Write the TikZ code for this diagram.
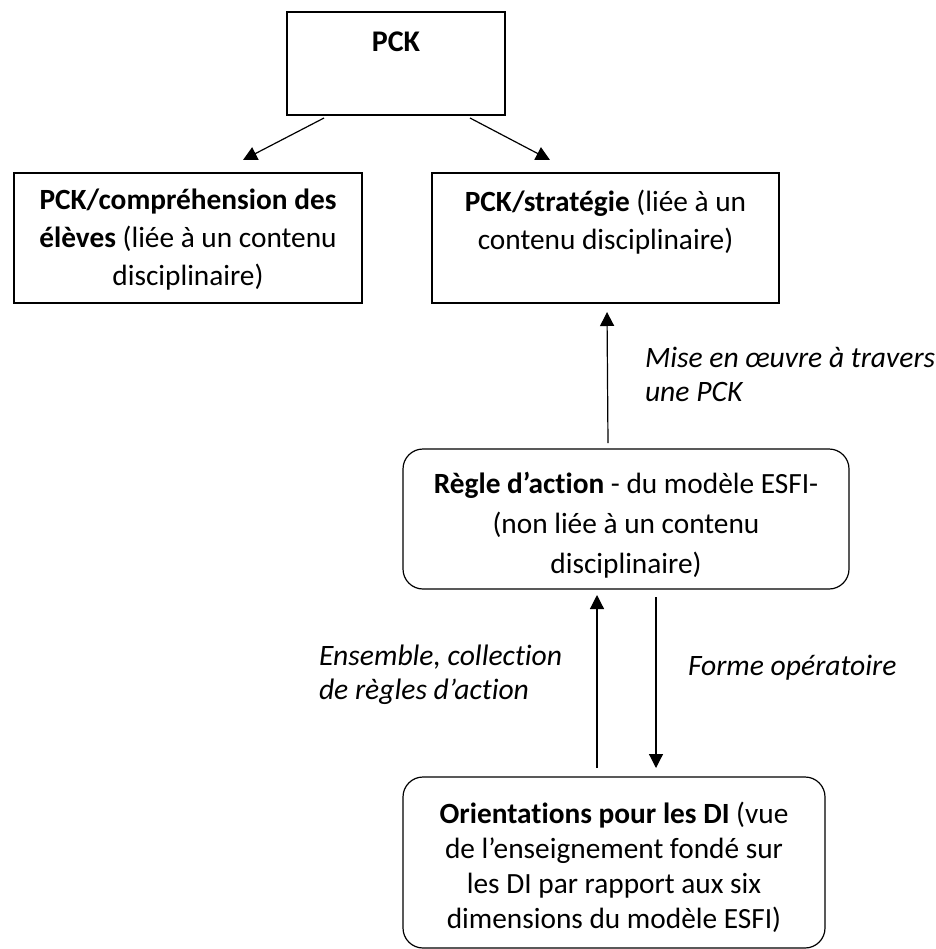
\documentclass[tikz,border=0pt]{standalone}
\usepackage{fontspec}
\setmainfont{Carlito}[Ligatures=NoCommon]
\setlength\parindent{0pt}
\usetikzlibrary{arrows.meta}
\begin{document}
\begin{tikzpicture}[x=0.75pt,y=-0.75pt,
  every node/.style={inner sep=0pt, outer sep=0pt},
  sqbox/.style={draw, line width=0.9pt, minimum width=#1},
  rbox/.style={draw, line width=0.9pt, rounded corners=15pt, minimum width=#1},
  body/.style={font=\fontsize{22}{28.5}\selectfont, align=flush center, text width=#1, anchor=base},
  note/.style={font=\fontsize{22.2}{25.5}\selectfont\itshape, align=left, anchor=base west},
  link/.style={line width=0.9pt, -{Triangle[width=10.5pt,length=10.5pt]}}]
\useasboundingbox (0,0) rectangle (935,949);

% boxes
\node[sqbox=163.5pt, minimum height=77.25pt] (pck) at (396,63.5) {};
\node[sqbox=261pt, minimum height=97.5pt] (eleves) at (188,238) {};
\node[sqbox=260.25pt, minimum height=97.5pt] (strat) at (605.5,238) {};
\node[rbox=334.5pt, minimum height=105pt] (regle) at (626,519) {};
\node[rbox=316.5pt, minimum height=128.25pt] (orient) at (614,862.5) {};

% box texts (base = first line)
\node[font=\fontsize{22.5}{28.5}\selectfont\bfseries, anchor=base] (tpck) at (396,52) {PCK};
\node[body=255pt] (televes) at (188,209) {\textbf{PCK/compréhension des}\\\textbf{élèves} (liée à un contenu\\disciplinaire)};
\node[body=255pt] (tstrat) at (605.5,211) {\textbf{PCK/stratégie} (liée à un\\contenu disciplinaire)};
\node[body=330pt, font=\fontsize{22}{30}\selectfont] (tregle) at (626,493) {\textbf{Règle d’action} - du modèle ESFI-\\(non liée à un contenu\\disciplinaire)};
\node[body=310pt, font=\fontsize{22}{26.25}\selectfont] (torient) at (614,823) {\textbf{Orientations pour les DI} (vue\\de l’enseignement fondé sur\\les DI par rapport aux six\\dimensions du modèle ESFI)};

% connector labels (base = last line)
\node[note] (lmise) at (645,401) {Mise en œuvre à travers\\une PCK};
\node[note] (lens) at (319,699) {Ensemble, collection\\de règles d’action};
\node[note] (lforme) at (688,675) {Forme opératoire};

% connectors
\draw[link] ([shift={(-72,3)}]pck.south) -- ([shift={(55,-13)}]eleves.north);
\draw[link] ([shift={(74,3)}]pck.south) -- ([shift={(-55.5,-13)}]strat.north);
\draw[link] ([shift={(-18,-6)}]regle.north) -- ([shift={(1.5,9)}]strat.south);
\draw[link] ([shift={(-17,-9)}]orient.north) -- ([shift={(-29,6)}]regle.south);
\draw[link] ([shift={(30,8)}]regle.south) -- ([shift={(42,-9)}]orient.north);
\end{tikzpicture}
\end{document}
